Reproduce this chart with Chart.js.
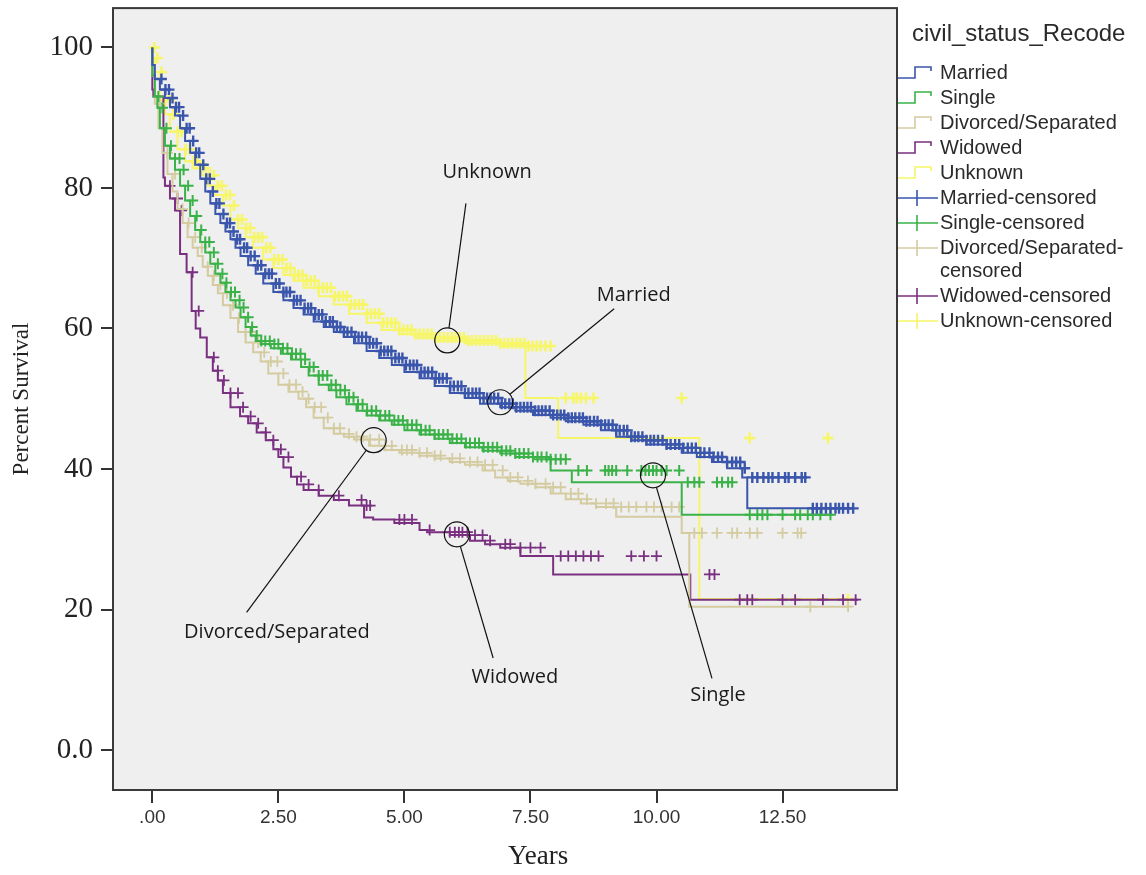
<!DOCTYPE html>
<html>
<head>
<meta charset="utf-8">
<script src="https://cdn.jsdelivr.net/npm/chart.js@4.4.1/dist/chart.umd.min.js"></script>
<style>
  html, body { margin: 0; padding: 0; background: #fff; }
  #wrap { width: 1146px; height: 875px; }
</style>
</head>
<body>
<div id="wrap"><canvas id="kmChart" width="1146" height="875"></canvas></div>
<script>
// ---- data (years, percent survival) ----
const seriesNames = ['Married', 'Single', 'Divorced/Separated', 'Widowed', 'Unknown'];

const marriedTimes    = [0, 0.05, 0.15, 0.25, 0.35, 0.45, 0.55, 0.65, 0.75, 0.85, 0.95, 1.05, 1.15, 1.25, 1.35, 1.45, 1.55, 1.65, 1.75, 1.9, 2.05, 2.2, 2.4, 2.6, 2.8, 3.0, 3.2, 3.4, 3.6, 3.8, 4.0, 4.25, 4.5, 4.75, 5.0, 5.3, 5.6, 5.9, 6.2, 6.5, 6.9, 7.2, 7.55, 7.9, 8.2, 8.55, 8.9, 9.2, 9.5, 9.8, 10.2, 10.5, 10.8, 11.1, 11.4, 11.7, 11.8, 13.0, 13.9];
const marriedSurvival = [100, 97.5, 95.5, 94, 92.8, 91.5, 90.3, 88.5, 86.7, 85, 83.3, 81.3, 79.5, 77.8, 76.3, 75, 73.8, 72.7, 71.5, 70.3, 69, 67.8, 66.4, 65.2, 64, 62.9, 62, 61, 60.2, 59.5, 58.8, 57.9, 56.8, 55.8, 54.8, 53.8, 52.9, 51.8, 50.8, 50.1, 49.3, 48.8, 48.3, 47.7, 47.3, 46.8, 46.3, 45.5, 44.6, 44.1, 43.5, 43, 42.3, 41.7, 41, 40.1, 38.8, 34.4, 34.4];

const singleTimes    = [0, 0.05, 0.1, 0.15, 0.25, 0.35, 0.45, 0.55, 0.65, 0.75, 0.85, 0.95, 1.05, 1.15, 1.25, 1.35, 1.45, 1.55, 1.65, 1.75, 1.85, 1.95, 2.05, 2.15, 2.35, 2.55, 2.75, 2.95, 3.1, 3.3, 3.5, 3.65, 3.85, 4.05, 4.25, 4.5, 4.75, 5.0, 5.3, 5.6, 5.9, 6.2, 6.55, 6.9, 7.2, 7.55, 7.9, 8.32, 10.5, 11.7, 13.5];
const singleSurvival = [100, 96, 93, 91.4, 88.5, 86, 84.2, 82.6, 80.3, 78.2, 76, 74, 72.3, 70.8, 69.2, 67.8, 66.5, 65.2, 64, 63, 61.6, 60.2, 59, 58.2, 57.8, 57.2, 56.4, 55.6, 54.5, 53.3, 52, 51.2, 50.2, 49.2, 48.3, 47.6, 46.9, 46.3, 45.5, 44.9, 44.3, 43.7, 43.1, 42.6, 42.2, 41.7, 41.4, 39.8, 38.1, 33.5, 33.5];

const divorcedTimes    = [0, 0.05, 0.12, 0.2, 0.3, 0.4, 0.5, 0.6, 0.7, 0.8, 0.9, 1.0, 1.1, 1.2, 1.3, 1.4, 1.55, 1.7, 1.85, 2.0, 2.15, 2.3, 2.5, 2.7, 2.9, 3.05, 3.2, 3.4, 3.6, 3.8, 4.0, 4.3, 4.6, 4.9, 5.3, 5.6, 5.9, 6.2, 6.55, 6.8, 7.05, 7.3, 7.6, 7.9, 8.2, 8.5, 8.8, 9.2, 10.5, 10.65, 12.95, 13.8];
const divorcedSurvival = [100, 96, 92, 88.5, 85, 82, 79.5, 77, 75, 73, 71.5, 70.3, 68.8, 67.5, 66.2, 65, 63.3, 61.5, 59.5, 58, 56.6, 55.3, 53.6, 52, 51, 50, 48.8, 47.3, 45.8, 45, 44.6, 44.2, 43.3, 42.7, 42.3, 41.9, 41.5, 41, 40.6, 39.8, 38.8, 38.3, 37.9, 37.4, 36.5, 35.7, 35.1, 34.6, 33.2, 30.9, 20.4, 20.4];

const widowedTimes    = [0, 0.02, 0.22, 0.25, 0.35, 0.45, 0.55, 0.68, 0.78, 0.86, 0.95, 1.08, 1.2, 1.3, 1.4, 1.55, 1.74, 1.9, 2.07, 2.25, 2.4, 2.5, 2.6, 2.75, 2.87, 3.0, 3.3, 3.6, 3.9, 4.2, 4.38, 4.8, 5.3, 5.45, 5.9, 6.3, 6.6, 6.9, 7.3, 7.95, 10.67, 11.5, 14.0];
const widowedSurvival = [100, 94, 93, 81.5, 80.3, 78.5, 76.8, 70.6, 68, 62.5, 60, 58.7, 55.9, 54, 52.6, 50.8, 48.8, 47.5, 46.5, 45.2, 44.1, 42.8, 41.7, 40.2, 38.9, 37.8, 37, 36.2, 35.6, 34.8, 33.1, 32.8, 32.3, 31.3, 31, 30.6, 29.8, 29.3, 28.8, 27.6, 25, 21.4, 21.4];

const unknownTimes    = [0, 0.05, 0.15, 0.25, 0.35, 0.5, 0.65, 0.8, 0.95, 1.1, 1.25, 1.4, 1.55, 1.7, 1.85, 2.0, 2.2, 2.4, 2.6, 2.8, 3.0, 3.3, 3.6, 3.9, 4.25, 4.55, 4.9, 5.2, 5.6, 6.2, 6.9, 7.4, 8.05, 10.85, 13.5, 13.8];
const unknownSurvival = [100, 98.5, 96.5, 92.5, 90.5, 88, 85.5, 83.8, 82.8, 81.8, 80.3, 79, 77.5, 75.5, 74.3, 73, 71.5, 69.8, 68.6, 67.6, 66.8, 65.8, 64.6, 63.4, 62.1, 60.8, 59.8, 59.2, 58.7, 58.3, 57.9, 57.5, 50.1, 44.4, 21.5, 21.5];

// censored observation times (years)
const marriedCensored = [0.18, 0.26, 0.33, 0.4, 0.47, 0.53, 0.61, 0.68, 0.74, 0.81, 0.87, 0.93, 1.01, 1.07, 1.14, 1.2, 1.27, 1.33, 1.41, 1.48, 1.54, 1.61, 1.68, 1.74, 1.82, 1.88, 1.95, 2.03, 2.09, 2.16, 2.24, 2.31, 2.37, 2.45, 2.52, 2.6, 2.66, 2.73, 2.81, 2.87, 2.94, 3.02, 3.09, 3.15, 3.23, 3.3, 3.37, 3.44, 3.52, 3.58, 3.66, 3.73, 3.8, 3.87, 3.95, 4.02, 4.09, 4.16, 4.24, 4.31, 4.38, 4.45, 4.53, 4.6, 4.67, 4.74, 4.82, 4.89, 4.96, 5.03, 5.11, 5.18, 5.25, 5.33, 5.4, 5.47, 5.55, 5.62, 5.69, 5.76, 5.84, 5.91, 5.98, 6.06, 6.13, 6.2, 6.27, 6.35, 6.42, 6.49, 6.57, 6.64, 6.71, 6.78, 6.86, 6.93, 7.0, 7.08, 7.15, 7.22, 7.3, 7.37, 7.44, 7.51, 7.59, 7.66, 7.73, 7.8, 7.88, 7.95, 8.03, 8.1, 8.17, 8.25, 8.32, 8.39, 8.47, 8.54, 8.61, 8.68, 8.76, 8.83, 8.9, 8.98, 9.05, 9.13, 9.2, 9.27, 9.35, 9.42, 9.5, 9.57, 9.64, 9.72, 9.8, 9.88, 9.95, 10.03, 10.12, 10.2, 10.28, 10.37, 10.45, 10.53, 10.62, 10.7, 10.78, 10.87, 10.95, 11.05, 11.13, 11.22, 11.3, 11.4, 11.5, 11.58, 11.66, 11.75, 11.9, 12.0, 12.12, 12.22, 12.3, 12.42, 12.55, 12.62, 12.75, 12.88, 12.95, 13.1, 13.18, 13.27, 13.36, 13.45, 13.55, 13.62, 13.7, 13.8, 13.9];
const singleCensored = [0.12, 0.2, 0.28, 0.37, 0.45, 0.54, 0.62, 0.71, 0.8, 0.88, 0.97, 1.05, 1.13, 1.22, 1.3, 1.39, 1.47, 1.56, 1.64, 1.73, 1.81, 1.9, 1.98, 2.07, 2.16, 2.24, 2.33, 2.42, 2.5, 2.59, 2.68, 2.77, 2.85, 2.94, 3.03, 3.12, 3.2, 3.3, 3.38, 3.47, 3.55, 3.64, 3.73, 3.82, 3.9, 3.99, 4.08, 4.17, 4.26, 4.35, 4.44, 4.52, 4.62, 4.7, 4.8, 4.88, 4.97, 5.06, 5.15, 5.24, 5.33, 5.42, 5.5, 5.6, 5.68, 5.77, 5.86, 5.95, 6.04, 6.13, 6.22, 6.3, 6.4, 6.48, 6.57, 6.66, 6.75, 6.84, 6.93, 7.02, 7.1, 7.2, 7.28, 7.37, 7.46, 7.55, 7.64, 7.72, 7.82, 7.9, 8.0, 8.1, 8.2, 8.45, 8.62, 8.98, 9.05, 9.12, 9.2, 9.42, 9.7, 9.78, 9.85, 9.93, 10.0, 10.1, 10.2, 10.45, 10.62, 10.75, 10.85, 11.2, 11.3, 11.42, 11.5, 11.85, 12.0, 12.1, 12.2, 12.5, 12.75, 12.85, 13.0, 13.1, 13.25, 13.45];
const divorcedCensored = [0.15, 0.3, 0.45, 0.6, 0.72, 0.85, 0.98, 1.1, 1.22, 1.35, 1.48, 1.6, 1.72, 1.85, 1.97, 2.1, 2.22, 2.35, 2.48, 2.6, 2.72, 2.85, 2.98, 3.1, 3.22, 3.35, 3.48, 3.6, 3.72, 3.9, 4.05, 4.18, 4.32, 4.5, 4.62, 4.75, 4.95, 5.05, 5.15, 5.3, 5.45, 5.6, 5.72, 5.95, 6.1, 6.3, 6.45, 6.6, 6.75, 6.95, 7.1, 7.25, 7.45, 7.6, 7.8, 7.95, 8.1, 8.3, 8.45, 8.62, 8.8, 9.0, 9.15, 9.3, 9.45, 9.6, 9.8, 9.95, 10.1, 10.3, 10.45, 10.75, 10.9, 11.2, 11.5, 11.6, 11.85, 12.0, 12.5, 12.8, 12.87, 13.05, 13.8];
const widowedCensored = [0.35, 0.5, 0.58, 0.8, 0.92, 1.22, 1.3, 1.42, 1.55, 1.7, 1.8, 1.95, 2.1, 2.25, 2.4, 2.55, 2.7, 2.95, 3.1, 3.3, 3.7, 4.15, 4.25, 4.32, 4.9, 5.0, 5.15, 5.5, 5.9, 6.0, 6.08, 6.15, 6.25, 6.4, 6.55, 6.7, 7.0, 7.1, 7.3, 7.5, 7.7, 8.1, 8.25, 8.4, 8.55, 8.7, 8.85, 9.5, 9.75, 10.0, 11.05, 11.15, 11.65, 11.8, 11.9, 12.5, 12.75, 13.3, 13.7, 13.95];
const unknownCensored = [0.04, 0.1, 0.18, 0.26, 0.34, 0.42, 0.5, 0.58, 0.66, 0.74, 0.82, 0.9, 0.98, 1.06, 1.14, 1.22, 1.3, 1.38, 1.46, 1.54, 1.62, 1.7, 1.78, 1.86, 1.94, 2.02, 2.1, 2.18, 2.26, 2.34, 2.42, 2.5, 2.58, 2.66, 2.74, 2.82, 2.9, 2.98, 3.06, 3.14, 3.22, 3.3, 3.38, 3.46, 3.54, 3.62, 3.7, 3.78, 3.86, 3.94, 4.02, 4.1, 4.18, 4.26, 4.34, 4.42, 4.5, 4.58, 4.66, 4.74, 4.82, 4.9, 4.98, 5.06, 5.14, 5.22, 5.3, 5.38, 5.46, 5.54, 5.62, 5.7, 5.78, 5.86, 5.94, 6.02, 6.1, 6.18, 6.26, 6.34, 6.42, 6.5, 6.58, 6.66, 6.74, 6.82, 6.9, 6.98, 7.06, 7.14, 7.22, 7.3, 7.38, 7.46, 7.54, 7.62, 7.7, 7.8, 7.9, 8.2, 8.35, 8.42, 8.5, 8.6, 8.75, 10.5, 11.85, 13.4, 13.8];

const xTickValues = [0, 2.5, 5, 7.5, 10, 12.5];
const xTickLabels = ['.00', '2.50', '5.00', '7.50', '10.00', '12.50'];
const yTickValues = [0, 20, 40, 60, 80, 100];
const yTickLabels = ['0.0', '20', '40', '60', '80', '100'];

const legendTitle = 'civil_status_Recode';
const legendLabels = ['Married', 'Single', 'Divorced/Separated', 'Widowed', 'Unknown',
  'Married-censored', 'Single-censored', 'Divorced/Separated-\ncensored', 'Widowed-censored', 'Unknown-censored'];

// callouts: label, circled point, label position, start of leader line (all in data units)
const calloutLabels = ['Unknown', 'Married', 'Divorced/Separated', 'Widowed', 'Single'];
const calloutCircles = [[5.85, 58.3], [6.9, 49.5], [4.39, 44.1], [6.04, 30.7], [9.93, 39.1]];
const calloutText = [[6.64, 82.2], [9.55, 64.7], [2.47, 16.8], [7.19, 10.4], [11.22, 7.8]];
const calloutLineFrom = [[6.22, 77.8], [9.16, 62.8], [1.87, 19.6], [6.76, 13.1], [11.1, 10.2]];

// ---- styling ----
const seriesColors = ['rgb(58,86,172)', 'rgb(58,178,72)', 'rgb(212,203,160)', 'rgb(122,48,128)', 'rgb(246,246,104)'];
const crossWidths = [2.4, 2, 1.8, 1.8, 2.6];
const serif = '"Liberation Serif", "Times New Roman", serif';
const sans = '"Liberation Sans", Arial, sans-serif';

const allTimes = [marriedTimes, singleTimes, divorcedTimes, widowedTimes, unknownTimes];
const allSurvival = [marriedSurvival, singleSurvival, divorcedSurvival, widowedSurvival, unknownSurvival];
const allCensored = [marriedCensored, singleCensored, divorcedCensored, widowedCensored, unknownCensored];

// survival level of a step curve at time t (used to sit censor marks on the curve)
function stepValueAt(times, values, t) {
    let v = values[0];
    for (let i = 0; i < times.length; i++) {
        if (times[i] <= t) v = values[i];
        else break;
    }
    return v;
}

const datasets = [];
seriesNames.forEach((name, i) => {
    datasets.push({
        type: 'line',
        label: name,
        data: allTimes[i].map((t, k) => ({ x: t, y: allSurvival[i][k] })),
        stepped: 'after',
        borderColor: seriesColors[i],
        borderWidth: 2,
        pointRadius: 0,
        fill: false
    });
    datasets.push({
        type: 'scatter',
        label: name + '-censored',
        data: allCensored[i].map(t => ({ x: t, y: stepValueAt(allTimes[i], allSurvival[i], t) })),
        pointStyle: 'cross',
        pointRadius: 5.5,
        borderColor: seriesColors[i],
        borderWidth: crossWidths[i]
    });
});

const plotFrame = {
    id: 'plotFrame',
    beforeDraw(chart) {
        const { ctx, chartArea: a } = chart;
        ctx.save();
        ctx.fillStyle = '#ffffff';
        ctx.fillRect(0, 0, chart.width, chart.height);
        ctx.fillStyle = '#efefef';
        ctx.fillRect(a.left, a.top, a.right - a.left, a.bottom - a.top);
        ctx.restore();
    },
    afterDatasetsDraw(chart) {
        const { ctx, chartArea: a, scales } = chart;
        ctx.save();
        // callouts
        ctx.strokeStyle = '#111';
        ctx.lineWidth = 1.2;
        ctx.fillStyle = '#1a1a1a';
        ctx.font = '20px "Open Sans", "DejaVu Sans", sans-serif';
        ctx.textAlign = 'center';
        ctx.textBaseline = 'middle';
        const r = 12.5;
        calloutLabels.forEach((lab, i) => {
            const cx = scales.x.getPixelForValue(calloutCircles[i][0]);
            const cy = scales.y.getPixelForValue(calloutCircles[i][1]);
            const lx = scales.x.getPixelForValue(calloutLineFrom[i][0]);
            const ly = scales.y.getPixelForValue(calloutLineFrom[i][1]);
            const d = Math.hypot(lx - cx, ly - cy);
            ctx.beginPath();
            ctx.arc(cx, cy, r, 0, Math.PI * 2);
            ctx.stroke();
            ctx.beginPath();
            ctx.moveTo(lx, ly);
            ctx.lineTo(cx + (lx - cx) * r / d, cy + (ly - cy) * r / d);
            ctx.stroke();
            ctx.fillText(lab, scales.x.getPixelForValue(calloutText[i][0]), scales.y.getPixelForValue(calloutText[i][1]));
        });
        // frame
        ctx.strokeStyle = '#3a3a3a';
        ctx.lineWidth = 2;
        ctx.strokeRect(a.left, a.top, a.right - a.left, a.bottom - a.top);
        ctx.restore();
    },
    afterDraw(chart) {
        const ctx = chart.ctx;
        const x0 = chart.chartArea.right + 1;
        ctx.save();
        // x axis title, sits a little right of the plot centre as in the original
        ctx.fillStyle = '#222';
        ctx.textAlign = 'center';
        ctx.textBaseline = 'middle';
        ctx.font = '27px ' + serif;
        ctx.fillText('Years', chart.scales.x.getPixelForValue(7.65), 857);
        // legend
        ctx.fillStyle = '#2a2a2a';
        ctx.textAlign = 'left';
        ctx.font = '24px ' + sans;
        ctx.fillText(legendTitle, 912, 34);
        ctx.font = '20px ' + sans;
        let y = 73;
        legendLabels.forEach((lab, i) => {
            const color = seriesColors[i % seriesNames.length];
            ctx.strokeStyle = color;
            ctx.lineWidth = 1.6;
            ctx.beginPath();
            if (i < seriesNames.length) {
                ctx.moveTo(x0, y + 5);
                ctx.lineTo(x0 + 17, y + 5);
                ctx.lineTo(x0 + 17, y - 6);
                ctx.lineTo(x0 + 33, y - 6);
                ctx.lineTo(x0 + 33, y - 2);
            } else {
                ctx.moveTo(x0, y);
                ctx.lineTo(x0 + 40, y);
                ctx.moveTo(x0 + 19, y - 8);
                ctx.lineTo(x0 + 19, y + 8);
            }
            ctx.stroke();
            const lines = lab.split('\n');
            lines.forEach((ln, k) => ctx.fillText(ln, 940, y + k * 23));
            y += 25 + 23 * (lines.length - 1);
        });
        ctx.restore();
    }
};

new Chart(document.getElementById('kmChart').getContext('2d'), {
    data: { datasets: datasets },
    options: {
        responsive: false,
        animation: false,
        events: [],
        layout: { padding: { left: 0, top: 7, right: 249, bottom: 0 } },
        plugins: {
            legend: { display: false },
            tooltip: { enabled: false }
        },
        scales: {
            x: {
                type: 'linear',
                min: -0.78,
                max: 14.77,
                afterBuildTicks: s => { s.ticks = xTickValues.map(v => ({ value: v })); },
                afterFit: s => { s.height = 85; },
                grid: { drawOnChartArea: false, drawTicks: true, tickLength: 13, color: '#333', lineWidth: 2 },
                border: { display: false },
                ticks: {
                    padding: 3,
                    color: '#333',
                    font: { family: sans, size: 19 },
                    maxRotation: 0,
                    callback: v => xTickLabels[xTickValues.indexOf(v)]
                },
                title: { display: false }
            },
            y: {
                type: 'linear',
                min: -5.69,
                max: 105.6,
                afterBuildTicks: s => { s.ticks = yTickValues.map(v => ({ value: v })); },
                afterFit: s => { s.width = 113; s.paddingTop = 0; s.paddingBottom = 0; },
                grid: { drawOnChartArea: false, drawTicks: true, tickLength: 12, color: '#333', lineWidth: 2 },
                border: { display: false },
                ticks: {
                    padding: 8,
                    color: '#222',
                    font: { family: serif, size: 29, lineHeight: 0.4 },
                    callback: v => yTickLabels[yTickValues.indexOf(v)]
                },
                title: { display: true, text: 'Percent Survival', color: '#222', font: { family: serif, size: 23 }, padding: { top: 8, bottom: 0 } }
            }
        }
    },
    plugins: [plotFrame]
});
</script>
</body>
</html>
